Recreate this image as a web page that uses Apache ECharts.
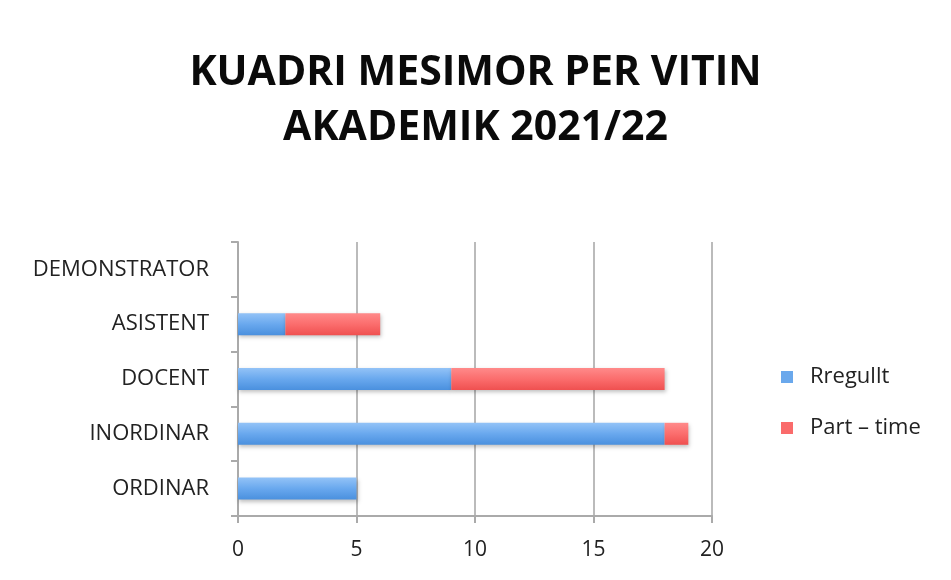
<!DOCTYPE html>
<html>
<head>
<meta charset="utf-8">
<script src="https://cdn.jsdelivr.net/npm/echarts@6/dist/echarts.min.js"></script>
<style>
  html, body { margin: 0; padding: 0; background: #fff; }
  #chart { width: 951px; height: 580px; }
</style>
</head>
<body>
<div id="chart"></div>
<script>
// te dhenat
var categories = ['ORDINAR', 'INORDINAR', 'DOCENT', 'ASISTENT', 'DEMONSTRATOR'];
var rregullt = [5, 18, 9, 2, 0];
var partTime = [0, 1, 9, 4, 0];
var xTicks = [0, 5, 10, 15, 20];

var myChart = echarts.init(document.getElementById('chart'));

var blue = new echarts.graphic.LinearGradient(0, 0, 0, 1, [
    { offset: 0, color: '#93c3f7' },
    { offset: 0.5, color: '#69a8ee' },
    { offset: 1, color: '#4a90de' }
]);
var red = new echarts.graphic.LinearGradient(0, 0, 0, 1, [
    { offset: 0, color: '#ff8a8a' },
    { offset: 0.5, color: '#fb6d6d' },
    { offset: 1, color: '#ef5050' }
]);

var option = {
    animation: false,
    title: {
        text: 'KUADRI MESIMOR PER VITIN\nAKADEMIK 2021/22',
        left: 'center',
        top: 41,
        padding: [5, 5, 5, 23],
        textStyle: {
            fontFamily: 'Open Sans',
            fontWeight: 'bold',
            fontSize: 41,
            lineHeight: 55,
            color: '#0a0a0a'
        }
    },
    legend: {
        orient: 'vertical',
        left: 776,
        top: 361,
        itemWidth: 12,
        itemHeight: 12,
        itemGap: 29,
        icon: 'rect',
        textStyle: { fontFamily: 'Open Sans', fontSize: 22, color: '#222', padding: [0, 0, 0, 12] },
        data: [
            { name: 'Rregullt', itemStyle: { color: '#6aa8ec' } },
            { name: 'Part – time', itemStyle: { color: '#fa6b6b' } }
        ]
    },
    grid: {
        left: 238,
        right: 239,
        top: 242,
        bottom: 64
    },
    xAxis: {
        type: 'value',
        min: 0,
        max: 20,
        interval: 5,
        axisLine: { show: true, lineStyle: { color: '#aaa', width: 2 } },
        axisTick: { show: true, length: 7, lineStyle: { color: '#aaa', width: 2 } },
        splitLine: { show: true, lineStyle: { color: '#bbb', width: 2 } },
        axisLabel: {
            fontFamily: 'Open Sans',
            fontSize: 21,
            color: '#222',
            margin: 24,
            formatter: function (v) { return xTicks.indexOf(v) >= 0 ? String(v) : ''; }
        }
    },
    yAxis: {
        type: 'category',
        data: categories,
        axisLine: { show: true, lineStyle: { color: '#aaa', width: 2 } },
        axisTick: { show: true, length: 7, lineStyle: { color: '#aaa', width: 2 } },
        axisLabel: {
            fontFamily: 'Open Sans',
            fontSize: 22,
            color: '#222',
            margin: 29
        }
    },
    series: [
        {
            name: 'Rregullt',
            type: 'bar',
            stack: 'total',
            barWidth: 22,
            itemStyle: {
                color: blue,
                shadowColor: 'rgba(0,0,0,0.25)',
                shadowBlur: 4,
                shadowOffsetX: 1,
                shadowOffsetY: 2
            },
            data: rregullt
        },
        {
            name: 'Part – time',
            type: 'bar',
            stack: 'total',
            barWidth: 22,
            itemStyle: {
                color: red,
                shadowColor: 'rgba(0,0,0,0.25)',
                shadowBlur: 4,
                shadowOffsetX: 1,
                shadowOffsetY: 2
            },
            data: partTime
        }
    ]
};

myChart.setOption(option, true);
</script>
</body>
</html>
